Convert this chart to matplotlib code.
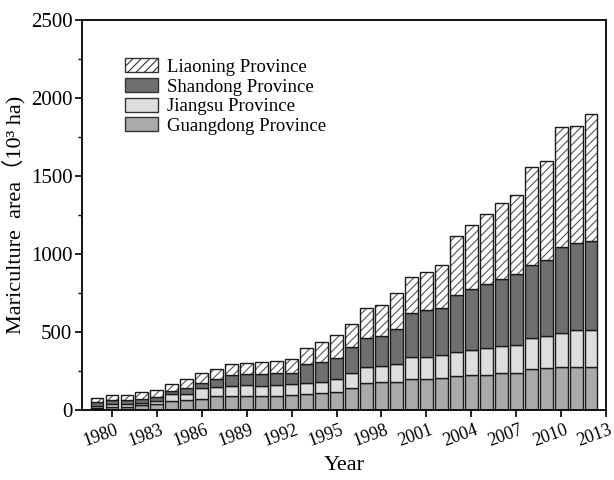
import matplotlib
matplotlib.use("Agg")
import matplotlib.pyplot as plt
import matplotlib.transforms as mtransforms
import numpy as np
from matplotlib.patches import Patch

plt.rcParams['font.family'] = ['Liberation Serif', 'Noto Sans CJK SC', 'DejaVu Sans']
plt.rcParams['hatch.linewidth'] = 0.8

years = list(range(1979, 2013))
guangdong = [15, 22, 22, 30, 38, 55, 64, 72, 88, 90, 92, 90, 92, 96, 100, 107, 117, 139,
             171, 178, 178, 197, 201, 203, 218, 224, 224, 235, 235, 263, 267, 274, 278, 278]
jiangsu = [13, 16, 16, 17, 20, 45, 39, 68, 62, 64, 66, 65, 68, 69, 71, 73, 80, 96,
           103, 106, 117, 145, 141, 150, 156, 161, 176, 177, 180, 196, 209, 222, 235, 235]
shandong = [22, 24, 24, 21, 24, 25, 40, 35, 50, 70, 73, 76, 75, 74, 122, 130, 134, 167,
            185, 190, 224, 282, 299, 299, 361, 393, 406, 426, 455, 470, 486, 551, 560, 570]
liaoning = [30, 34, 32, 45, 45, 44, 56, 60, 63, 71, 73, 74, 79, 88, 107, 128, 150, 151,
            193, 199, 233, 231, 242, 277, 382, 408, 450, 487, 506, 629, 636, 765, 750, 816]
xtick_years = list(range(1980, 2014, 3))
ytick_vals = [0, 500, 1000, 1500, 2000, 2500]

c_g = '#aaaaaa'
c_j = '#dedede'
c_s = '#6f6f6f'
c_l = 'white'
edge = '#1a1a1a'

fig = plt.figure(figsize=(6.14, 4.8), dpi=100)
ax = fig.add_axes([0.1336, 0.1458, 0.8534, 0.8125])

x = np.array(years)
g = np.array(guangdong); j = np.array(jiangsu); s = np.array(shandong); l = np.array(liaoning)
w = 0.86
lw = 1.0
ax.bar(x, g, w, color=c_g, edgecolor=edge, linewidth=lw)
ax.bar(x, j, w, bottom=g, color=c_j, edgecolor=edge, linewidth=lw)
ax.bar(x, s, w, bottom=g + j, color=c_s, edgecolor=edge, linewidth=lw)
ax.bar(x, l, w, bottom=g + j + s, color=c_l, edgecolor='#555555', linewidth=0, hatch='////')
ax.bar(x, l, w, bottom=g + j + s, fill=False, edgecolor=edge, linewidth=lw)

ax.set_xlim(1978, 2013)
ax.set_ylim(0, 2500)
ax.set_xticks(xtick_years)
ax.set_xticklabels([str(v) for v in xtick_years], rotation=20, ha='center', fontsize=13)
ax.set_yticks(ytick_vals)
ax.set_yticklabels([str(v) for v in ytick_vals], fontsize=15)
ax.set_yticks(np.arange(250, 2500, 500), minor=True)
ax.tick_params(axis='both', which='both', direction='out', top=False, right=False)
ax.tick_params(axis='both', which='major', length=5, width=1.2, pad=2)
ax.tick_params(axis='y', which='minor', length=3, width=1.0)
offset = mtransforms.ScaledTranslation(-11 / 100, -2 / 100, fig.dpi_scale_trans)
for lab in ax.get_xticklabels():
    lab.set_transform(lab.get_transform() + offset)
for sp in ax.spines.values():
    sp.set_linewidth(1.3)

ax.set_xlabel('Year', fontsize=16, labelpad=4)
ax.set_ylabel('Mariculture  area（10³ ha)', fontsize=16, labelpad=4)

handles = [
    Patch(facecolor='white', edgecolor='#333333', hatch='////', linewidth=1.0),
    Patch(facecolor=c_s, edgecolor='#333333', linewidth=1.0),
    Patch(facecolor=c_j, edgecolor='#333333', linewidth=1.0),
    Patch(facecolor=c_g, edgecolor='#333333', linewidth=1.0),
]
labels = ['Liaoning Province', 'Shandong Province', 'Jiangsu Province', 'Guangdong Province']
ax.legend(handles, labels, loc='upper left', bbox_to_anchor=(0.057, 0.935), frameon=False,
          fontsize=13.5, handlelength=1.75, handleheight=0.75, labelspacing=0.12,
          handletextpad=0.5, borderpad=0.2)

fig.savefig('out.png', dpi=100)
